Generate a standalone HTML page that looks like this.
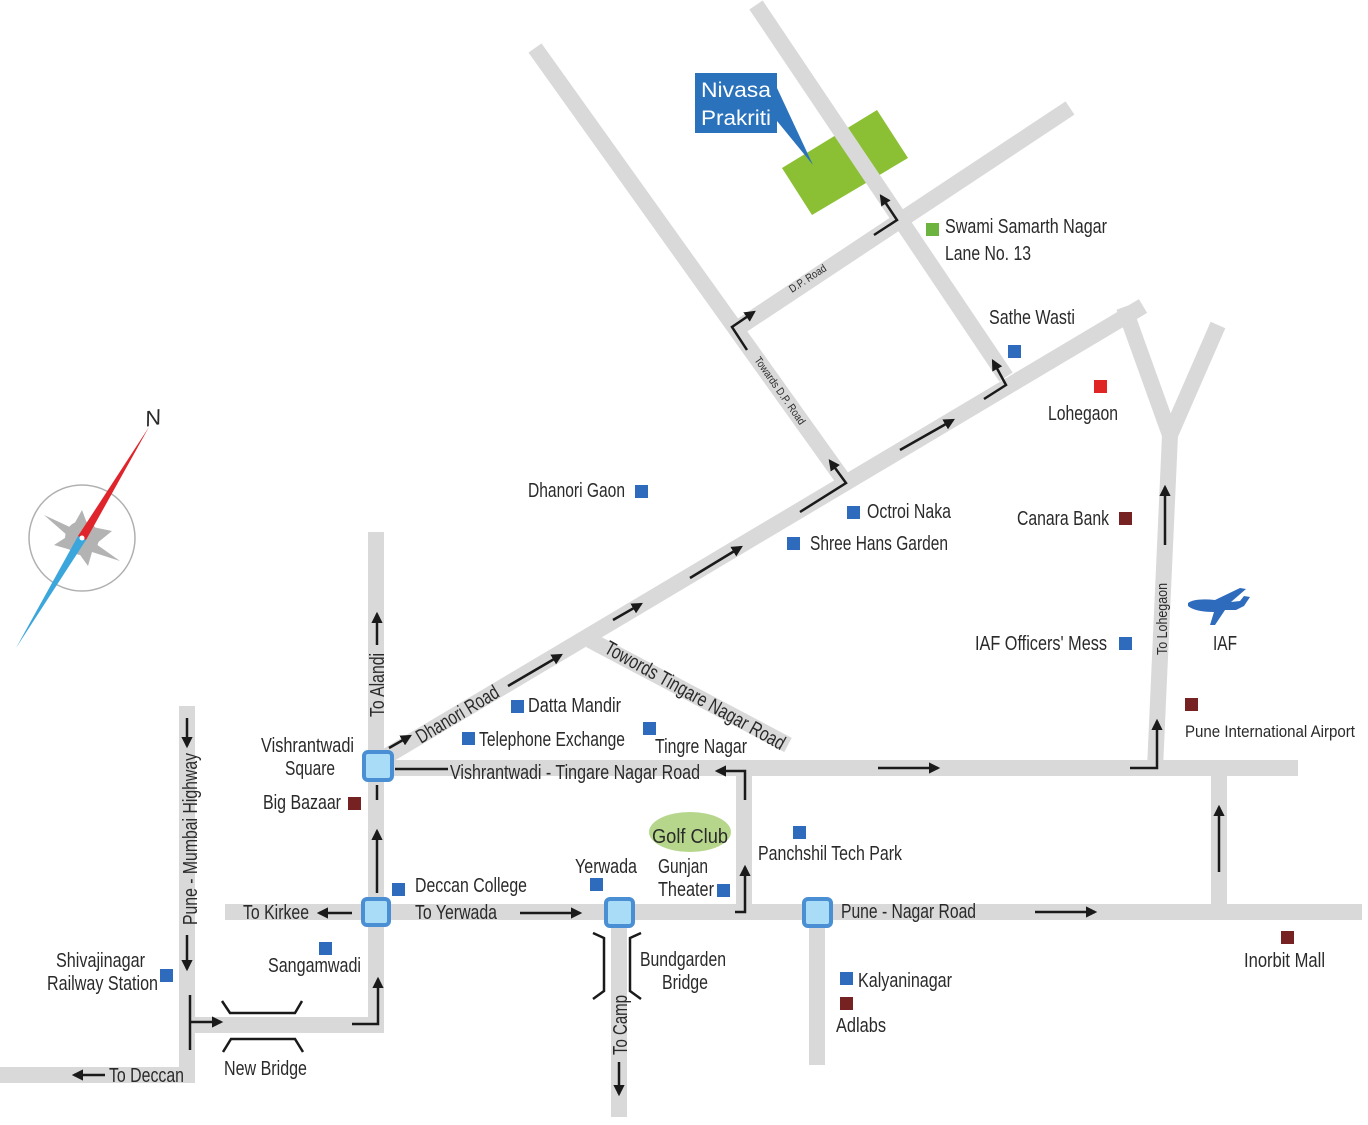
<!DOCTYPE html>
<html><head><meta charset="utf-8"><style>
html,body{margin:0;padding:0;background:#fff}
svg{display:block}
text{font-family:"Liberation Sans",sans-serif;fill:#2a2a2a;font-size:20px}
</style></head><body>
<svg width="1368" height="1125" viewBox="0 0 1368 1125" xmlns="http://www.w3.org/2000/svg">
<defs>
<marker id="ah" viewBox="0 0 10 10" refX="8" refY="5" markerWidth="4.5" markerHeight="4.5" orient="auto"><path d="M0,0 L10,5 L0,10 z" fill="#1a1a1a"/></marker>
</defs>
<!-- green plot -->
<polygon points="782,168 877,110 908,158 812,215" fill="#8cc034"/>
<!-- roads -->
<g stroke="#d9d9d9" stroke-width="16" fill="none" stroke-linecap="butt">
<line x1="380" y1="760" x2="1143" y2="306"/>
<line x1="590" y1="640" x2="788" y2="745"/>
<line x1="535" y1="48" x2="845" y2="482"/>
<line x1="756" y1="5" x2="1006" y2="377"/>
<line x1="735" y1="330" x2="1070" y2="108"/>
<line x1="376" y1="532" x2="376" y2="1032"/>
<line x1="370" y1="768" x2="1298" y2="768"/>
<line x1="225" y1="912" x2="1362" y2="912"/>
<line x1="619" y1="912" x2="619" y2="1117"/>
<line x1="817" y1="912" x2="817" y2="1065"/>
<line x1="744" y1="768" x2="744" y2="912"/>
<line x1="1219" y1="768" x2="1219" y2="912"/>
<polyline points="1155,768 1170,435 1124,307"/>
<line x1="1170" y1="435" x2="1218" y2="325"/>
<line x1="187" y1="706" x2="187" y2="1083"/>
<line x1="0" y1="1075" x2="195" y2="1075"/>
<line x1="187" y1="1025" x2="384" y2="1025"/>
</g>
<!-- arrows -->
<g stroke="#1a1a1a" stroke-width="2.5" fill="none" marker-end="url(#ah)">
<line x1="377" y1="645" x2="377" y2="614"/>
<line x1="377" y1="893" x2="377" y2="831"/>
<line x1="352" y1="913" x2="319" y2="913"/>
<line x1="520" y1="913" x2="580" y2="913"/>
<line x1="1035" y1="912" x2="1095" y2="912"/>
<line x1="1219" y1="872" x2="1219" y2="807"/>
<line x1="878" y1="768" x2="938" y2="768"/>
<polyline points="735,912 745,912 745,867"/>
<polyline points="745,800 745,771 717,771"/>
<line x1="389" y1="748" x2="410" y2="736"/>
<line x1="508" y1="686" x2="561" y2="655"/>
<line x1="613" y1="620" x2="641" y2="604"/>
<line x1="690" y1="578" x2="741" y2="547"/>
<polyline points="800,512 846,483 830,461"/>
<line x1="900" y1="450" x2="953" y2="420"/>
<polyline points="984,399 1006,385 993,361"/>
<polyline points="874,235 897,220 881,196"/>
<polyline points="747,350 732,327 754,312"/>
<polyline points="1130,768 1157,768 1157,721"/>
<line x1="1165" y1="545" x2="1165" y2="487"/>
<line x1="187" y1="718" x2="187" y2="746"/>
<line x1="187" y1="935" x2="187" y2="969"/>
<line x1="190" y1="1022" x2="221" y2="1022"/>
<polyline points="352,1024 378,1024 378,979"/>
<line x1="105" y1="1075" x2="74" y2="1075"/>
<line x1="619" y1="1062" x2="619" y2="1094"/>
</g>
<g stroke="#1a1a1a" stroke-width="2.5" fill="none">
<line x1="190" y1="995" x2="190" y2="1050"/>
<line x1="377" y1="785" x2="377" y2="800"/>
<line x1="395" y1="769" x2="448" y2="769"/>
<polyline points="222,1001 230,1013 295,1013 302,1001"/>
<polyline points="223,1052 231,1039 295,1039 303,1052"/>
<polyline points="593,933 604,938 604,991 593,999"/>
<polyline points="641,933 630,938 630,991 641,999"/>
</g>
<!-- junction markers -->
<g fill="#a9dcf6" stroke="#4a8fd4" stroke-width="4">
<rect x="364" y="752" width="28" height="28" rx="4"/>
<rect x="363" y="899" width="26" height="26" rx="4"/>
<rect x="606" y="899" width="27" height="27" rx="4"/>
<rect x="804" y="899" width="27" height="27" rx="4"/>
</g>
<!-- callout -->
<rect x="695" y="73" width="82" height="60" fill="#2a72bb"/>
<polygon points="768,110 777,88 813,165" fill="#2a72bb"/>
<text x="701" y="97" style="fill:#fff;font-size:21px" textLength="70" lengthAdjust="spacingAndGlyphs">Nivasa</text>
<text x="701" y="125" style="fill:#fff;font-size:21px" textLength="70" lengthAdjust="spacingAndGlyphs">Prakriti</text>
<!-- golf club -->
<ellipse cx="690" cy="832" rx="41" ry="20" fill="#b6d78b"/>
<!-- squares -->
<g fill="#2f6bbd">
<rect x="1008" y="345" width="13" height="13"/>
<rect x="635" y="485" width="13" height="13"/>
<rect x="847" y="506" width="13" height="13"/>
<rect x="787" y="537" width="13" height="13"/>
<rect x="1119" y="637" width="13" height="13"/>
<rect x="511" y="700" width="13" height="13"/>
<rect x="462" y="732" width="13" height="13"/>
<rect x="643" y="722" width="13" height="13"/>
<rect x="717" y="884" width="13" height="13"/>
<rect x="793" y="826" width="13" height="13"/>
<rect x="590" y="878" width="13" height="13"/>
<rect x="392" y="883" width="13" height="13"/>
<rect x="319" y="942" width="13" height="13"/>
<rect x="840" y="972" width="13" height="13"/>
<rect x="160" y="969" width="13" height="13"/>
</g>
<g fill="#762122">
<rect x="1119" y="512" width="13" height="13"/>
<rect x="1185" y="698" width="13" height="13"/>
<rect x="348" y="797" width="13" height="13"/>
<rect x="840" y="997" width="13" height="13"/>
<rect x="1281" y="931" width="13" height="13"/>
</g>
<rect x="926" y="223" width="13" height="13" fill="#6db33f"/>
<rect x="1094" y="380" width="13" height="13" fill="#e02525"/>
<!-- plane -->
<path d="M1188,603 Q1195,598 1215,600 L1240,588 L1246,589 L1231,602 L1240,601 L1244,596 L1250,597 L1244,606 L1236,610 L1225,610 L1215,625 L1210,625 L1214,612 Q1195,612 1188,606 Z" fill="#2f6bbd"/>
<!-- compass -->
<circle cx="82" cy="538" r="53" fill="none" stroke="#b0b0b0" stroke-width="1.5"/>
<polygon points="44,515 72,528 82,510 88,526 112,531 96,544 120,561 92,552 88,566 78,552 54,545 68,536" fill="#b3b3b3"/>
<circle cx="82" cy="538" r="17" fill="#b3b3b3"/>
<polygon points="78,536 86,540 149,427" fill="#e0242b"/>
<polygon points="78,536 86,540 16,648" fill="#3aa6dc"/>
<circle cx="82" cy="538" r="2.5" fill="#fff"/>
<text x="145" y="425" style="font-size:22px;font-style:italic" transform="rotate(-10 155 418)">N</text>
<!-- labels -->
<text x="945" y="233" textLength="162" lengthAdjust="spacingAndGlyphs">Swami Samarth Nagar</text>
<text x="945" y="260" textLength="86" lengthAdjust="spacingAndGlyphs">Lane No. 13</text>
<text x="989" y="324" textLength="86" lengthAdjust="spacingAndGlyphs">Sathe Wasti</text>
<text x="1048" y="420" textLength="70" lengthAdjust="spacingAndGlyphs">Lohegaon</text>
<text x="528" y="497" textLength="97" lengthAdjust="spacingAndGlyphs">Dhanori Gaon</text>
<text x="867" y="518" textLength="84" lengthAdjust="spacingAndGlyphs">Octroi Naka</text>
<text x="810" y="550" textLength="138" lengthAdjust="spacingAndGlyphs">Shree Hans Garden</text>
<text x="1017" y="525" textLength="92" lengthAdjust="spacingAndGlyphs">Canara Bank</text>
<text x="975" y="650" textLength="132" lengthAdjust="spacingAndGlyphs">IAF Officers' Mess</text>
<text x="1213" y="650" textLength="24" lengthAdjust="spacingAndGlyphs">IAF</text>
<text x="1185" y="737" style="font-size:17px" textLength="170" lengthAdjust="spacingAndGlyphs">Pune International Airport</text>
<text x="528" y="712" textLength="93" lengthAdjust="spacingAndGlyphs">Datta Mandir</text>
<text x="479" y="746" textLength="146" lengthAdjust="spacingAndGlyphs">Telephone Exchange</text>
<text x="655" y="753" textLength="92" lengthAdjust="spacingAndGlyphs">Tingre Nagar</text>
<text x="261" y="752" textLength="93" lengthAdjust="spacingAndGlyphs">Vishrantwadi</text>
<text x="285" y="775" textLength="50" lengthAdjust="spacingAndGlyphs">Square</text>
<text x="263" y="809" textLength="78" lengthAdjust="spacingAndGlyphs">Big Bazaar</text>
<text x="450" y="779" textLength="250" lengthAdjust="spacingAndGlyphs">Vishrantwadi - Tingare Nagar Road</text>
<text x="652" y="843" textLength="76" lengthAdjust="spacingAndGlyphs">Golf Club</text>
<text x="658" y="873" textLength="50" lengthAdjust="spacingAndGlyphs">Gunjan</text>
<text x="658" y="896" textLength="56" lengthAdjust="spacingAndGlyphs">Theater</text>
<text x="758" y="860" textLength="144" lengthAdjust="spacingAndGlyphs">Panchshil Tech Park</text>
<text x="575" y="873" textLength="62" lengthAdjust="spacingAndGlyphs">Yerwada</text>
<text x="415" y="892" textLength="112" lengthAdjust="spacingAndGlyphs">Deccan College</text>
<text x="415" y="919" textLength="82" lengthAdjust="spacingAndGlyphs">To Yerwada</text>
<text x="243" y="919" textLength="66" lengthAdjust="spacingAndGlyphs">To Kirkee</text>
<text x="841" y="918" textLength="135" lengthAdjust="spacingAndGlyphs">Pune - Nagar Road</text>
<text x="268" y="972" textLength="93" lengthAdjust="spacingAndGlyphs">Sangamwadi</text>
<text x="640" y="966" textLength="86" lengthAdjust="spacingAndGlyphs">Bundgarden</text>
<text x="662" y="989" textLength="46" lengthAdjust="spacingAndGlyphs">Bridge</text>
<text x="858" y="987" textLength="94" lengthAdjust="spacingAndGlyphs">Kalyaninagar</text>
<text x="836" y="1032" textLength="50" lengthAdjust="spacingAndGlyphs">Adlabs</text>
<text x="1244" y="967" textLength="81" lengthAdjust="spacingAndGlyphs">Inorbit Mall</text>
<text x="56" y="967" textLength="89" lengthAdjust="spacingAndGlyphs">Shivajinagar</text>
<text x="47" y="990" textLength="111" lengthAdjust="spacingAndGlyphs">Railway Station</text>
<text x="224" y="1075" textLength="83" lengthAdjust="spacingAndGlyphs">New Bridge</text>
<text x="109" y="1082" textLength="75" lengthAdjust="spacingAndGlyphs">To Deccan</text>
<!-- rotated labels -->
<text x="0" y="0" transform="translate(384,717) rotate(-90)" textLength="64" lengthAdjust="spacingAndGlyphs">To Alandi</text>
<text x="0" y="0" transform="translate(197,925) rotate(-90)" textLength="172" lengthAdjust="spacingAndGlyphs">Pune - Mumbai Highway</text>
<text x="0" y="0" transform="translate(627,1055) rotate(-90)" textLength="60" lengthAdjust="spacingAndGlyphs">To Camp</text>
<text x="0" y="0" transform="translate(1167,655) rotate(-90)" style="font-size:15px" textLength="72" lengthAdjust="spacingAndGlyphs">To Lohegaon</text>
<text x="0" y="0" transform="translate(421,744) rotate(-31)" textLength="93" lengthAdjust="spacingAndGlyphs">Dhanori Road</text>
<text x="0" y="0" transform="translate(603,652) rotate(29)" textLength="203" lengthAdjust="spacingAndGlyphs">Towords Tingare Nagar Road</text>
<text x="0" y="0" transform="translate(792,293) rotate(-33)" style="font-size:11px" textLength="42" lengthAdjust="spacingAndGlyphs">D.P. Road</text>
<text x="0" y="0" transform="translate(754,360) rotate(55)" style="font-size:11px" textLength="80" lengthAdjust="spacingAndGlyphs">Towards D.P. Road</text>
</svg>
</body></html>
